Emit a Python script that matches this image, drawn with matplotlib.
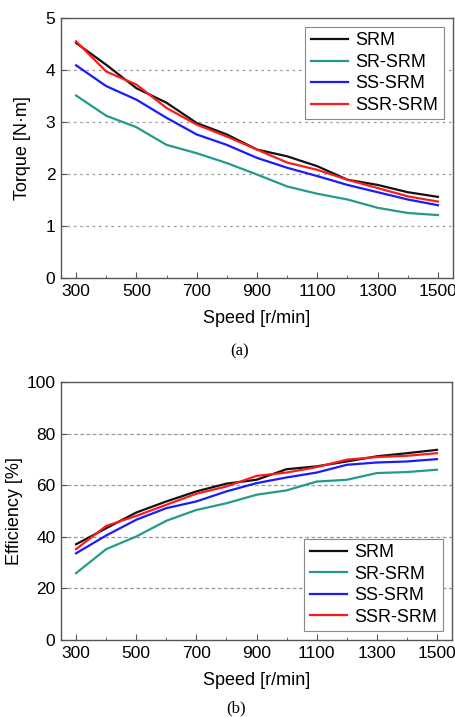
import matplotlib
matplotlib.use("Agg")
import matplotlib.pyplot as plt
from matplotlib.ticker import MultipleLocator

plt.rcParams['font.family'] = ['Liberation Sans', 'DejaVu Sans']

speed = [300, 400, 500, 600, 700, 800, 900, 1000, 1100, 1200, 1300, 1400, 1500]
names = ["SRM", "SR-SRM", "SS-SRM", "SSR-SRM"]
colors = ["#111111", "#239a8a", "#1a1aff", "#ff1a1a"]

torque_srm = [4.52, 4.10, 3.65, 3.37, 2.98, 2.76, 2.47, 2.34, 2.15, 1.89, 1.79, 1.65, 1.56]
torque_sr = [3.51, 3.12, 2.90, 2.56, 2.40, 2.21, 1.99, 1.76, 1.62, 1.51, 1.35, 1.25, 1.21]
torque_ss = [4.09, 3.69, 3.43, 3.08, 2.76, 2.56, 2.31, 2.12, 1.96, 1.79, 1.65, 1.51, 1.40]
torque_ssr = [4.55, 3.97, 3.72, 3.27, 2.95, 2.72, 2.47, 2.22, 2.08, 1.89, 1.73, 1.57, 1.47]

eff_srm = [37.1, 43.3, 49.4, 53.7, 57.6, 60.6, 62.1, 66.2, 67.3, 69.2, 71.2, 72.4, 73.7]
eff_sr = [25.9, 35.2, 40.1, 46.2, 50.4, 53.0, 56.3, 58.0, 61.4, 62.1, 64.7, 65.1, 66.0]
eff_ss = [33.6, 40.5, 46.6, 51.1, 53.7, 57.6, 60.8, 63.0, 64.9, 67.9, 68.8, 69.2, 70.1]
eff_ssr = [35.2, 44.2, 48.1, 52.4, 56.7, 59.5, 63.6, 64.9, 67.0, 69.9, 70.9, 71.4, 72.4]

W, H = 456, 717
fig = plt.figure(figsize=(W / 100, H / 100), dpi=100)

def make_axes(box, series, ylim, ystep, ylabel, ylabel_x, grid_ls, legend_loc):
    l, t, r, b = box
    ax = fig.add_axes([l / W, 1 - b / H, (r - l) / W, (b - t) / H])
    for y, name, c in zip(series, names, colors):
        ax.plot(speed, y, color=c, lw=1.6, label=name)
    ax.set_xlim(250, 1550)
    ax.set_ylim(*ylim)
    ax.set_xticks(speed[::2])
    ax.set_xticks(speed[1::2], minor=True)
    ax.yaxis.set_major_locator(MultipleLocator(ystep))
    for v in range(1, int(round(ylim[1] / ystep))):
        ax.axhline(v * ystep, color="#999999", lw=0.9, ls=grid_ls, zorder=0)
    ax.tick_params(direction="in", labelsize=12.5, length=4, color="#555555", pad=4)
    ax.tick_params(which="minor", direction="in", length=2.5, color="#555555")
    for s in ax.spines.values():
        s.set_color("#555555")
        s.set_linewidth(1.0)
    ax.set_xlabel("Speed [r/min]", fontsize=13, labelpad=8)
    ax.set_ylabel(ylabel, fontsize=13)
    # label anchor is the right edge of the rotated text
    ax.yaxis.set_label_coords((ylabel_x - l) / (r - l), 0.5)
    leg = ax.legend(loc=legend_loc, fontsize=13, fancybox=False, framealpha=1,
                    edgecolor="#888888", handlelength=2.1, handletextpad=0.4,
                    labelspacing=0.25, borderpad=0.3, borderaxespad=0.5)
    leg.get_frame().set_linewidth(0.8)
    return ax

make_axes((61, 18, 453, 278), [torque_srm, torque_sr, torque_ss, torque_ssr],
          (0, 5), 1, "Torque [N\u00b7m]", 31, (0, (2, 3)), "upper right")
make_axes((61, 382, 452, 640), [eff_srm, eff_sr, eff_ss, eff_ssr],
          (0, 100), 20, "Efficiency [%]", 23, (0, (3, 2)), "lower right")

fig.text(240 / W, 1 - 351 / H, "(a)", ha="center", va="center",
         fontsize=12, family="Liberation Serif")
fig.text(236 / W, 1 - 708 / H, "(b)", ha="center", va="center",
         fontsize=12, family="Liberation Serif")

fig.savefig("out.png", dpi=100)
